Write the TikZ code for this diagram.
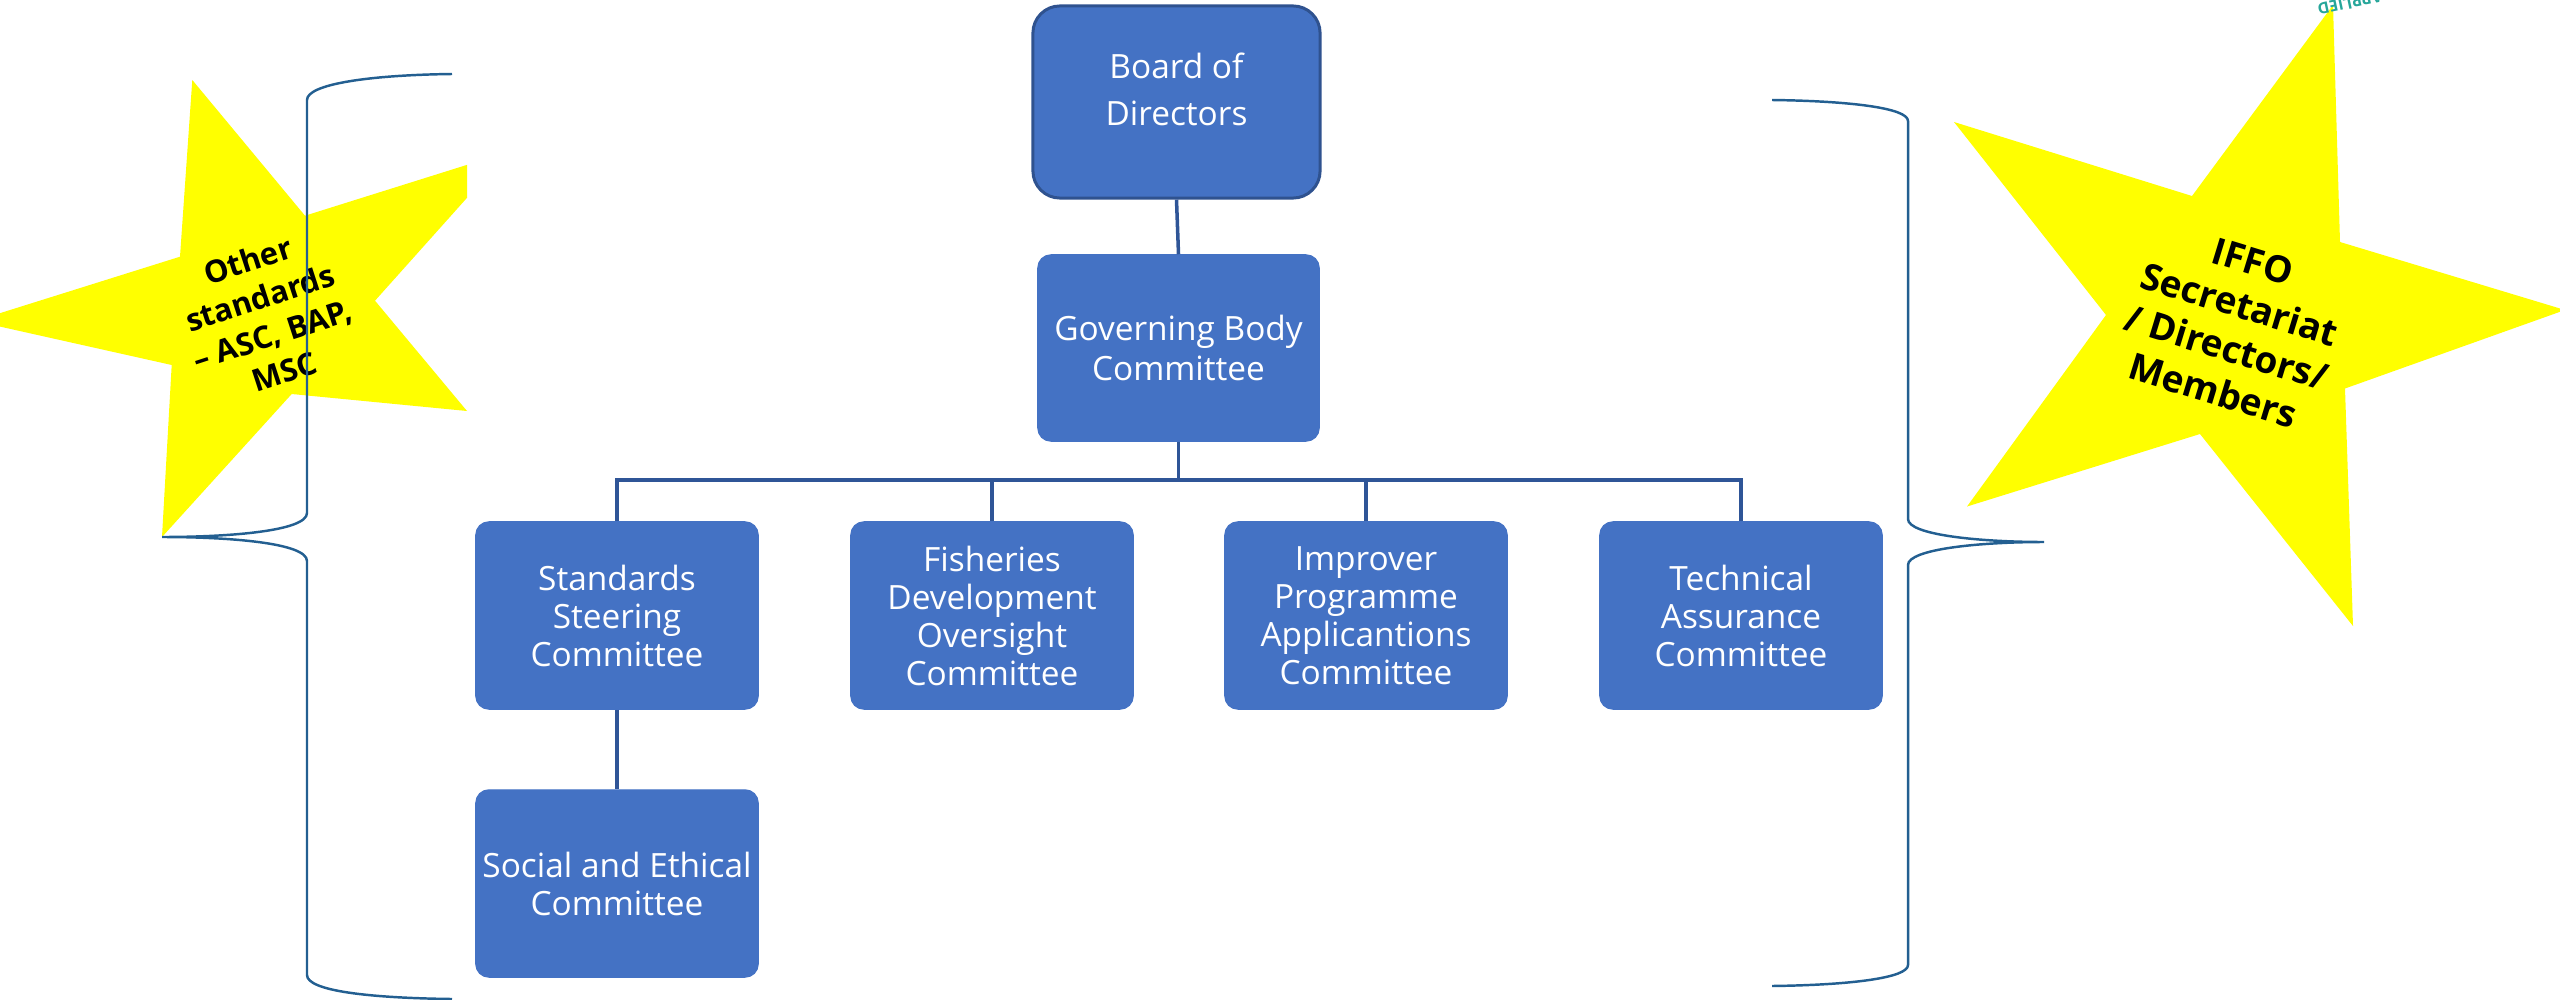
\documentclass[tikz,border=0pt]{standalone}
\usepackage{fontspec}
\setmainfont{Open Sans}
\definecolor{boxblue}{RGB}{68,114,196}
\definecolor{boxedge}{RGB}{47,82,143}
\definecolor{linkblue}{RGB}{47,85,151}
\definecolor{bracecol}{RGB}{35,95,145}
\definecolor{staryellow}{RGB}{255,255,0}
\definecolor{tealtxt}{RGB}{38,166,154}
\tikzset{
  orgbox/.style={fill=boxblue, draw=boxblue, rounded corners=0.13cm,
    minimum width=2.82cm, minimum height=1.87cm, inner sep=0pt,
    text=white, align=center, font=\fontsize{9.5}{10.8}\selectfont},
  boxtext/.style={text=white, align=center, inner sep=0pt},
  link/.style={draw=linkblue, line width=1pt},
  bracepath/.style={draw=bracecol, line width=0.7pt},
  starfill/.style={fill=staryellow, draw=none},
  startext/.style={align=center, text=black, inner sep=0pt}
}
\begin{document}
\begin{tikzpicture}[x=0.01cm,y=-0.01cm]
\useasboundingbox (0,0) rectangle (2560,1000);
\clip (0,0) rectangle (2560,1000);

% left star (hidden behind the chart to the right of x=467)
\begin{scope}
  \clip (-50,-50) rectangle (467,1050);
  \fill[starfill] (192.3,80) -- (305,215.7) -- (508,152) -- (375,300.7) -- (467,411)
     -- (291.7,394) -- (162,537) -- (171.7,365) -- (-25,321) -- (180,256.7) -- cycle;
  \node[startext, rotate=18, font=\bfseries\fontsize{8.8}{11.1}\selectfont] (lstartxt) at (266,316)
     {Other\\standards\\– ASC, BAP,\\MSC};
\end{scope}

% right star
\fill[starfill] (2333,5) -- (2340,242) -- (2565,310) -- (2345,388.5) -- (2353,626)
   -- (2200,434) -- (1967,506.5) -- (2106,315) -- (1954,122) -- (2192,196) -- cycle;
\node[startext, rotate=-17, font=\bfseries\fontsize{10.5}{12.8}\selectfont] (rstartxt) at (2233,326)
   {IFFO\\Secretariat\\/ Directors/\\Members};

% teal fragment at the top edge
\node[text=tealtxt, rotate=192, inner sep=0pt, font=\bfseries\fontsize{4.5}{5}\selectfont] (teal) at (2350,3) {APPLIED};

% boxes
\node[orgbox, draw=boxedge, line width=0.85pt, rounded corners=0.27cm,
      minimum width=2.87cm, minimum height=1.92cm] (board) at (1176.5,102) {};
\node[boxtext, font=\fontsize{9.5}{13.4}\selectfont] (boardtxt) at (1176.5,89) {Board of\\Directors};
\node[orgbox, minimum width=2.81cm, minimum height=1.86cm, font=\fontsize{9.5}{11.3}\selectfont] (gov) at (1178.5,348) {Governing Body\\Committee};

\node[orgbox] (ssc) at (617,615.5) {Standards\\Steering\\Committee};
\node[orgbox] (fdo) at (992,615.5) {Fisheries\\Development\\Oversight\\Committee};
\node[orgbox] (ipa) at (1366,615.5) {Improver\\Programme\\Applicantions\\Committee};
\node[orgbox] (tac) at (1741,615.5) {Technical\\Assurance\\Committee};
\node[orgbox] (sec) at (617,883.5) {Social and Ethical\\Committee};

% connectors
\coordinate (bus) at (1178.5,480);
\draw[link] (board.south) -- (gov.north);
\draw[link] (gov.south) -- (gov.south |- bus);
\draw[link] (ssc.north) -- (ssc.north |- bus) -- (tac.north |- bus) -- (tac.north);
\draw[link] (fdo.north) -- (fdo.north |- bus);
\draw[link] (ipa.north) -- (ipa.north |- bus);
\draw[link] (ssc.south) -- (sec.north);

% left brace
\coordinate (lbtop) at (452,74);
\coordinate (lbtip) at (162,537);
\coordinate (lbbot) at (452,999);
\draw[bracepath] (lbtop) .. controls (370,75) and (307,84) .. (307,100)
   -- (307,513) .. controls (307,531) and (230,537) .. (lbtip)
   .. controls (230,537) and (307,543) .. (307,561)
   -- (307,975) .. controls (307,991) and (370,998) .. (lbbot);

% right brace
\coordinate (rbtop) at (1772,100);
\coordinate (rbtip) at (2044,542);
\coordinate (rbbot) at (1772,986);
\draw[bracepath] (rbtop) .. controls (1850,101) and (1908,108) .. (1908,121)
   -- (1908,519) .. controls (1908,535) and (1980,542) .. (rbtip)
   .. controls (1980,542) and (1908,549) .. (1908,565)
   -- (1908,965) .. controls (1908,978) and (1850,985) .. (rbbot);
\end{tikzpicture}
\end{document}
